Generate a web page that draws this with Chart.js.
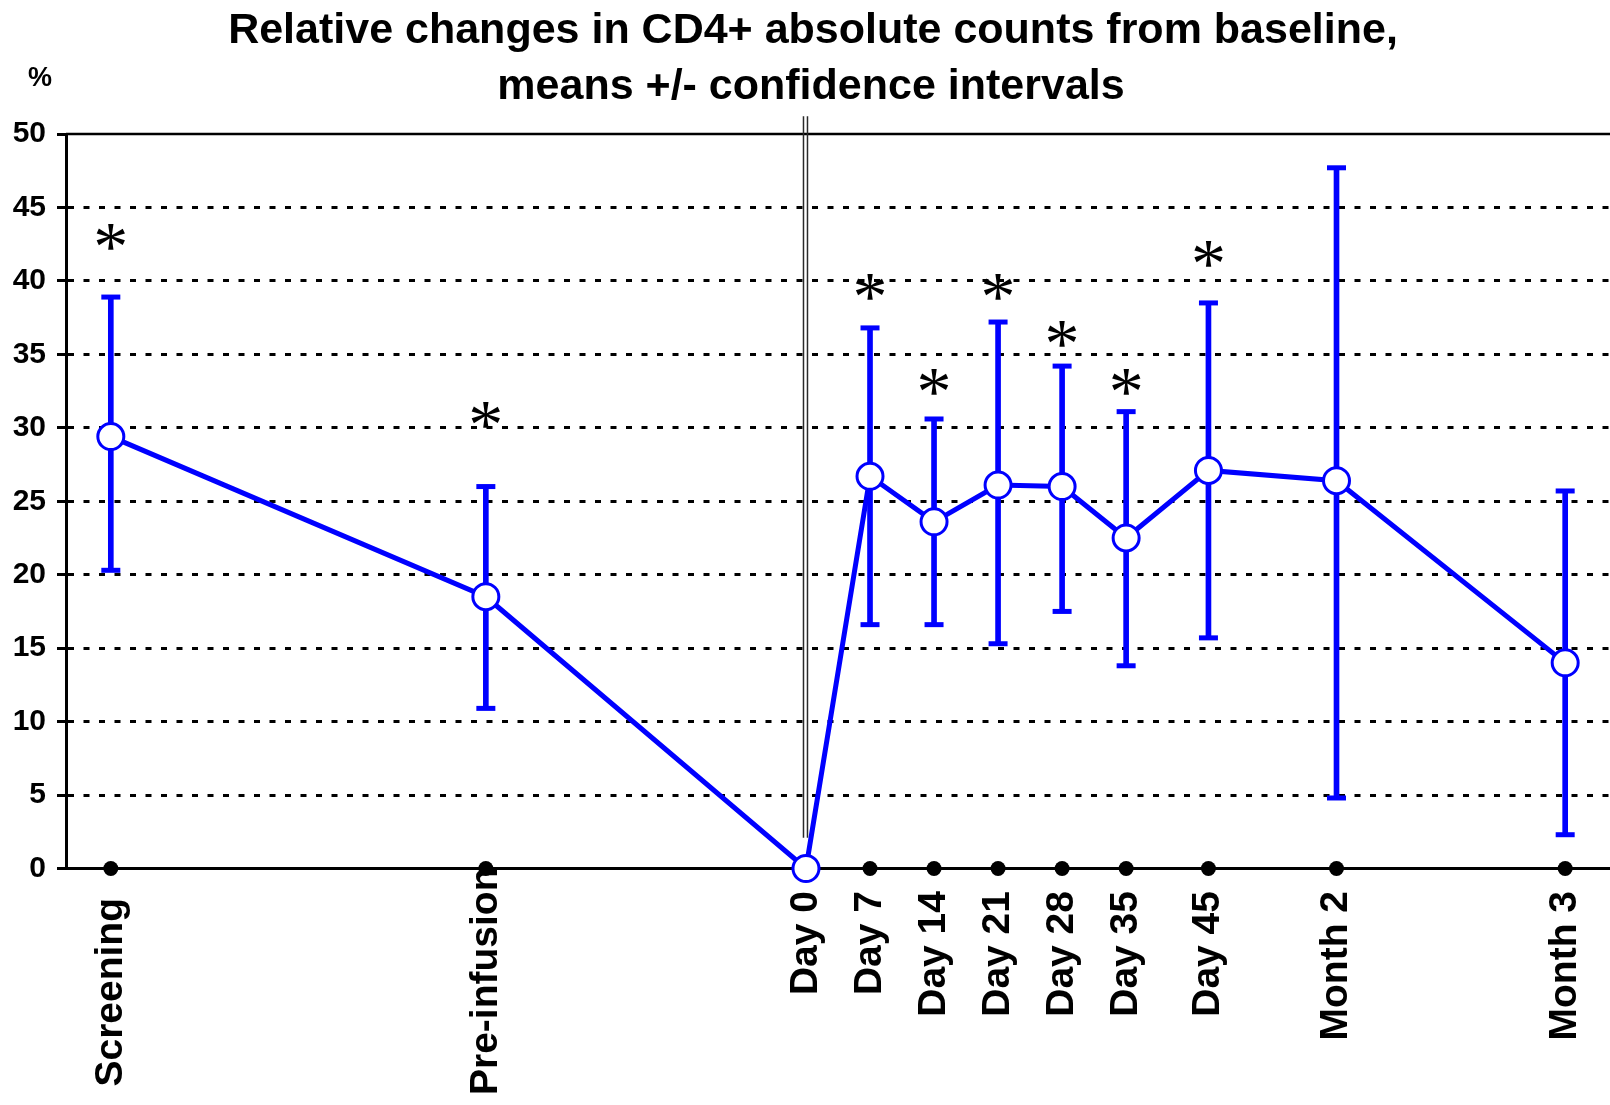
<!DOCTYPE html>
<html>
<head>
<meta charset="utf-8">
<script src="https://cdn.jsdelivr.net/npm/chart.js@4.4.1/dist/chart.umd.min.js"></script>
<style>
html,body{margin:0;padding:0;background:#ffffff;overflow:hidden;}
#wrap{width:1610px;height:1105px;position:relative;}
canvas{display:block;}
</style>
</head>
<body>
<div id="wrap"><canvas id="c" width="1610" height="1105"></canvas></div>
<script>
// ---- data ----
const visits = ['Screening', 'Pre-infusion', 'Day 0', 'Day 7', 'Day 14', 'Day 21', 'Day 28', 'Day 35', 'Day 45', 'Month 2', 'Month 3'];
const visitPositions = [-76, -35, 0, 7, 14, 21, 28, 35, 44, 58, 83];
const meanChange = [29.4, 18.5, 0, 26.7, 23.6, 26.1, 26.0, 22.5, 27.1, 26.4, 14.0];
const ciLower = [20.3, 10.9, null, 16.6, 16.6, 15.3, 17.5, 13.8, 15.7, 4.8, 2.3];
const ciUpper = [38.9, 26.0, null, 36.8, 30.6, 37.2, 34.2, 31.1, 38.5, 47.7, 25.7];
const starLevel = [43.0, 30.9, null, 39.6, 33.1, 39.6, 36.4, 33.1, 41.8, null, null];
const yTicks = [0, 5, 10, 15, 20, 25, 30, 35, 40, 45, 50];
const yMin = 0, yMax = 50;
const xMin = -80.9, xMax = 87.9;
const day0LineFrom = 2.1, day0LineTo = 51.2;
const titleLines = ['Relative changes in CD4+ absolute counts from baseline,', 'means +/- confidence intervals'];
const yUnit = '%';

// ---- derived tables ----
const BLUE = '#0000ff';
const meanPoints = visitPositions.map((x, i) => ({x: x, y: meanChange[i]}));
const ciIdx = visitPositions.map((_, i) => i).filter(i => ciLower[i] !== null && ciUpper[i] !== null);
const ciBars = ciIdx.map(i => ({x: visitPositions[i], y: [ciLower[i], ciUpper[i]]}));
const ciCaps = ciIdx.map(i => ({x: visitPositions[i], y: ciUpper[i]})).concat(ciIdx.map(i => ({x: visitPositions[i], y: ciLower[i]})));
const visitDots = visitPositions.map(x => ({x: x, y: 0}));

const SANS = "'Liberation Sans', Arial, Helvetica, sans-serif";
// vertical nudges (px) of two tick labels, as placed in the original figure
const labelNudge = {'Screening': 7, 'Pre-infusion': -23.5};

const decorations = {
  id: 'decorations',
  beforeDraw(chart) {
    const xs = chart.scales.x;
    const items = xs.getLabelItems();
    items.forEach(it => {
      if (it._nudged) return;
      const d = labelNudge[it.label];
      if (d) it.options.translation[1] += d;
      it._nudged = true;
    });
  },
  beforeDatasetsDraw(chart) {
    const {ctx, chartArea, scales} = chart;
    const xs = scales.x, ys = scales.y;
    ctx.save();
    ctx.strokeStyle = '#000';
    ctx.lineWidth = 2.5;
    const yt = ys.getPixelForValue(yMax);
    ctx.beginPath();
    ctx.moveTo(chartArea.left, yt);
    ctx.lineTo(chartArea.right, yt);
    ctx.stroke();
    const xp = xs.getPixelForValue(0);
    const y1 = ys.getPixelForValue(day0LineTo), y2 = ys.getPixelForValue(day0LineFrom);
    ctx.strokeStyle = '#2a2a2a';
    ctx.lineWidth = 1.5;
    [-2.5, 1.5].forEach(d => {
      ctx.beginPath();
      ctx.moveTo(xp + d, y1);
      ctx.lineTo(xp + d, y2);
      ctx.stroke();
    });
    ctx.restore();
  },
  afterDatasetsDraw(chart) {
    const {ctx, scales} = chart;
    const xs = scales.x, ys = scales.y;
    ctx.save();
    ctx.fillStyle = '#000';
    ctx.font = "70px 'Liberation Serif', 'Times New Roman', serif";
    ctx.textAlign = 'left';
    ctx.textBaseline = 'alphabetic';
    const m = ctx.measureText('*');
    visitPositions.forEach((v, i) => {
      if (starLevel[i] === null) return;
      const X = xs.getPixelForValue(v), Y = ys.getPixelForValue(starLevel[i]);
      const x = X - (m.actualBoundingBoxRight - m.actualBoundingBoxLeft) / 2;
      const y = Y + (m.actualBoundingBoxAscent - m.actualBoundingBoxDescent) / 2;
      ctx.fillText('*', x, y);
    });
    ctx.restore();
  },
  afterDraw(chart) {
    const {ctx} = chart;
    ctx.save();
    ctx.fillStyle = '#000';
    ctx.textAlign = 'center';
    ctx.textBaseline = 'alphabetic';
    ctx.font = 'bold 43px ' + SANS;
    ctx.fillText(titleLines[0], 813, 43);
    ctx.fillText(titleLines[1], 811, 98.5);
    ctx.font = 'bold 27px ' + SANS;
    ctx.fillText(yUnit, 40, 86);
    ctx.restore();
  }
};

new Chart(document.getElementById('c'), {
  type: 'scatter',
  data: {
    datasets: [
      {
        type: 'line',
        label: 'Mean change',
        data: meanPoints,
        borderColor: BLUE,
        borderWidth: 5,
        tension: 0,
        fill: false,
        pointRadius: 13,
        pointBorderWidth: 3,
        pointBorderColor: BLUE,
        pointBackgroundColor: '#ffffff',
        clip: false,
        order: 1
      },
      {
        type: 'scatter',
        label: 'CI caps',
        data: ciCaps,
        pointStyle: 'line',
        pointRadius: 9.5,
        pointBorderWidth: 5,
        borderColor: BLUE,
        backgroundColor: BLUE,
        showLine: false,
        clip: false,
        order: 2
      },
      {
        type: 'bar',
        label: 'CI',
        data: ciBars,
        backgroundColor: BLUE,
        borderWidth: 0,
        barThickness: 5,
        grouped: false,
        clip: false,
        order: 3
      },
      {
        type: 'scatter',
        label: 'Visits',
        data: visitDots,
        pointRadius: 7.5,
        pointBorderWidth: 0,
        backgroundColor: '#000',
        borderColor: '#000',
        showLine: false,
        clip: false,
        order: 4
      }
    ]
  },
  options: {
    responsive: false,
    devicePixelRatio: 1,
    animation: false,
    events: [],
    layout: {autoPadding: false, padding: {top: 134, left: 0, right: 0, bottom: 0}},
    plugins: {legend: {display: false}, tooltip: {enabled: false}, title: {display: false}},
    scales: {
      x: {
        type: 'linear',
        min: xMin,
        max: xMax,
        bounds: 'data',
        offset: false,
        afterBuildTicks: s => { s.ticks = visitPositions.map(v => ({value: v})); },
        ticks: {
          autoSkip: false,
          minRotation: 90,
          maxRotation: 90,
          padding: 22.5,
          color: '#000',
          font: {family: SANS, size: 39, weight: 'bold'},
          callback: (v, i) => visits[i]
        },
        grid: {display: false, drawTicks: false, offset: false},
        border: {display: true, color: '#000', width: 3},
        afterFit: s => { s.height = 236.5; s.paddingLeft = 0; s.paddingRight = 0; }
      },
      y: {
        type: 'linear',
        min: yMin,
        max: yMax,
        bounds: 'data',
        afterBuildTicks: s => { s.ticks = yTicks.map(v => ({value: v})); },
        ticks: {
          padding: 11,
          color: '#000',
          font: {family: SANS, size: 30, weight: 'bold'}
        },
        grid: {
          color: c => (c.tick && (c.tick.value === yMin || c.tick.value === yMax)) ? 'rgba(0,0,0,0)' : '#000',
          lineWidth: 3,
          drawTicks: true,
          tickLength: 9,
          tickColor: '#000',
          tickWidth: 3
        },
        border: {display: true, color: '#000', width: 3, dash: [6, 9.5]},
        afterFit: s => { s.width = 66; s.paddingTop = 0; s.paddingBottom = 0; }
      }
    }
  },
  plugins: [decorations]
});
</script>
</body>
</html>
